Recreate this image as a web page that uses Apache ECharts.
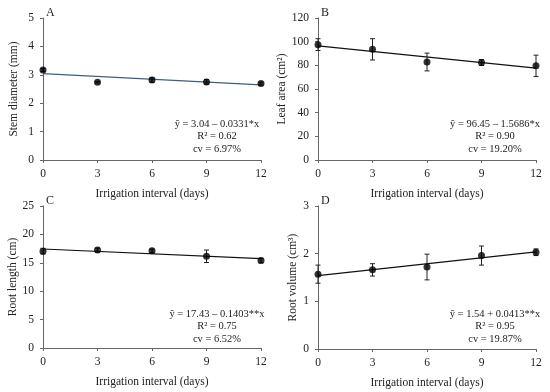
<!DOCTYPE html>
<html><head><meta charset="utf-8">
<script src="https://cdn.jsdelivr.net/npm/echarts@6/dist/echarts.min.js"></script>
<style>html,body{margin:0;padding:0;background:#fff}#c{width:550px;height:392px}</style>
</head><body><div id="c"></div>
<script>
var xDays = [0, 3, 6, 9, 12];
var xTicks = ['0', '3', '6', '9', '12'];
// Panel A: stem diameter
var stemMean = [3.17, 2.74, 2.82, 2.75, 2.69];
var stemErr  = [0.05, 0.03, 0.08, 0.08, 0.05];
var stemFit  = [3.04, 2.643];
// Panel B: leaf area
var leafMean = [97.5, 93.5, 82.8, 82.4, 79.6];
var leafErr  = [5, 9, 7.5, 2.5, 9];
var leafFit  = [96.45, 77.63];
// Panel C: root length
var rlenMean = [17.05, 17.25, 17.1, 16.15, 15.4];
var rlenErr  = [0.5, 0.35, 0.3, 1.1, 0.4];
var rlenFit  = [17.43, 15.75];
// Panel D: root volume
var rvolMean = [1.57, 1.66, 1.72, 1.96, 2.03];
var rvolErr  = [0.19, 0.13, 0.27, 0.2, 0.07];
var rvolFit  = [1.54, 2.036];

var panels = [
  {label:'A', ytitle:'Stem diameter (mm)', mean:stemMean, err:stemErr, fit:stemFit, max:5, interval:1, fitColor:'#3d5f82', gap:23,
   eq:['ŷ = 3.04 – 0.0331*x','R² = 0.62','cv = 6.97%']},
  {label:'B', ytitle:'Leaf area (cm²)', mean:leafMean, err:leafErr, fit:leafFit, max:120, interval:20, fitColor:'#111', gap:22,
   eq:['ŷ = 96.45 – 1.5686*x','R² = 0.90','cv = 19.20%']},
  {label:'C', ytitle:'Root length (cm)', mean:rlenMean, err:rlenErr, fit:rlenFit, max:25, interval:5, fitColor:'#111', gap:23,
   eq:['ŷ = 17.43 – 0.1403**x','R² = 0.75','cv = 6.52%']},
  {label:'D', ytitle:'Root volume (cm³)', mean:rvolMean, err:rvolErr, fit:rvolFit, max:3, interval:1, fitColor:'#111', gap:18,
   eq:['ŷ = 1.54 + 0.0413**x','R² = 0.95','cv = 19.87%']}
];
var grids = [
  {left:43, top:18, width:218, height:142},
  {left:318, top:18, width:218, height:142},
  {left:43, top:206, width:218, height:142},
  {left:318, top:206, width:218, height:143}
];
var FF = '"Liberation Serif", "Times New Roman", serif';
var axisCol = '#666';
var option = {animation:false, grid:[], xAxis:[], yAxis:[], series:[], graphic:[]};
panels.forEach(function(p, i){
  var g = grids[i];
  option.grid.push({left:g.left, top:g.top, width:g.width, height:g.height});
  option.xAxis.push({gridIndex:i, type:'value', min:0, max:12, interval:3,
    name:'Irrigation interval (days)', nameLocation:'middle', nameGap:28,
    nameTextStyle:{fontFamily:FF, fontSize:11.5, color:'#222'},
    axisLine:{lineStyle:{color:axisCol}}, axisTick:{show:true, length:3, lineStyle:{color:axisCol}},
    axisLabel:{fontFamily:FF, fontSize:11.5, color:'#222', margin:8, formatter:function(v){return xTicks[xDays.indexOf(v)]||'';}},
    splitLine:{show:false}});
  option.yAxis.push({gridIndex:i, type:'value', min:0, max:p.max, interval:p.interval,
    name:p.ytitle, nameLocation:'middle', nameGap:p.gap,
    nameTextStyle:{fontFamily:FF, fontSize:11.5, color:'#222'},
    axisLine:{show:true, lineStyle:{color:axisCol}}, axisTick:{show:true, length:3, lineStyle:{color:axisCol}},
    axisLabel:{fontFamily:FF, fontSize:11.5, color:'#222', margin:9},
    splitLine:{show:false}});
  // fit line
  option.series.push({type:'line', xAxisIndex:i, yAxisIndex:i, symbol:'none',
    data:[[xDays[0], p.fit[0]],[xDays[4], p.fit[1]]],
    lineStyle:{color:p.fitColor, width:1.2}, z:2});
  // error bars
  option.series.push({type:'custom', xAxisIndex:i, yAxisIndex:i, z:3,
    data: xDays.map(function(x, k){return [x, p.mean[k]-p.err[k], p.mean[k]+p.err[k]];}),
    renderItem:function(params, api){
      var lo = api.coord([api.value(0), api.value(1)]);
      var hi = api.coord([api.value(0), api.value(2)]);
      var w = 2.5;
      var st = {stroke:'#222', lineWidth:1};
      return {type:'group', children:[
        {type:'line', shape:{x1:lo[0], y1:lo[1], x2:hi[0], y2:hi[1]}, style:st},
        {type:'line', shape:{x1:lo[0]-w, y1:lo[1], x2:lo[0]+w, y2:lo[1]}, style:st},
        {type:'line', shape:{x1:hi[0]-w, y1:hi[1], x2:hi[0]+w, y2:hi[1]}, style:st}
      ]};
    }});
  // points
  option.series.push({type:'scatter', xAxisIndex:i, yAxisIndex:i, symbol:'circle', symbolSize:7, z:4,
    itemStyle:{color:'#000'},
    data: xDays.map(function(x, k){return [x, p.mean[k]];})});
  // panel label
  option.graphic.push({type:'text', left:g.left+3, top:g.top-11,
    style:{text:p.label, font:'12px '+FF, fill:'#222'}});
  // equation block
  var cx = g.left + (i%2===0 ? 174 : 177);
  var ty = g.top + (i<2 ? 106 : 108);
  p.eq.forEach(function(t, k){
    option.graphic.push({type:'text', x:cx, y:ty + k*12.5,
      style:{text:t, font:'10.5px '+FF, fill:'#222', textAlign:'center', textVerticalAlign:'middle'}});
  });
});
var chart = echarts.init(document.getElementById('c'), null, {renderer:'canvas'});
chart.setOption(option);
</script></body></html>
